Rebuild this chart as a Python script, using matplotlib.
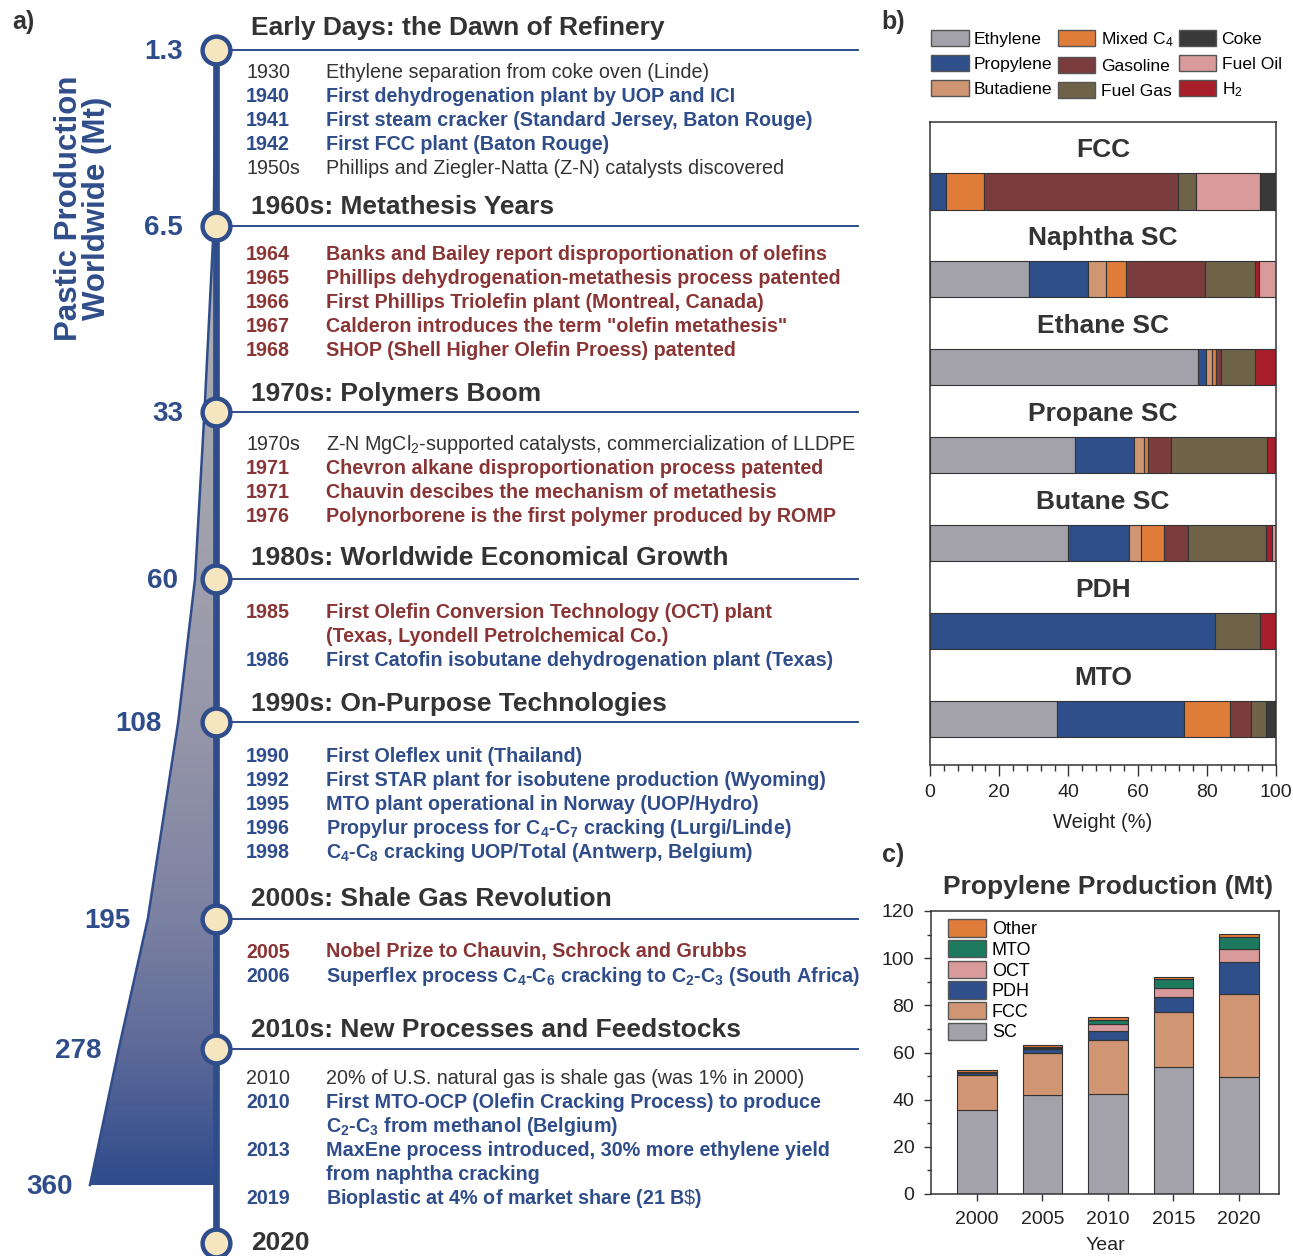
import numpy as np
import matplotlib
matplotlib.use("Agg")
import matplotlib.pyplot as plt
from matplotlib.colors import LinearSegmentedColormap
from matplotlib.patches import Patch
from matplotlib.ticker import MultipleLocator

plt.rcParams["font.family"] = ["Liberation Sans", "DejaVu Sans"]
plt.rcParams["mathtext.fontset"] = "custom"
plt.rcParams["mathtext.rm"] = "Liberation Sans"
plt.rcParams["mathtext.bf"] = "Liberation Sans:bold"
plt.rcParams["mathtext.it"] = "Liberation Sans:italic"

# ---------------- a) timeline data ----------------
eras = [
    "Early Days: the Dawn of Refinery",
    "1960s: Metathesis Years",
    "1970s: Polymers Boom",
    "1980s: Worldwide Economical Growth",
    "1990s: On-Purpose Technologies",
    "2000s: Shale Gas Revolution",
    "2010s: New Processes and Feedstocks",
    "2020",
]
production = [1.3, 6.5, 33, 60, 108, 195, 278, 360]
prod_labels = ["1.3", "6.5", "33", "60", "108", "195", "278", "360"]

# k = plain, b = blue bold, r = red bold
events = [
    [("1930", "Ethylene separation from coke oven (Linde)", "k"),
     ("1940", "First dehydrogenation plant by UOP and ICI", "b"),
     ("1941", "First steam cracker (Standard Jersey, Baton Rouge)", "b"),
     ("1942", "First FCC plant (Baton Rouge)", "b"),
     ("1950s", "Phillips and Ziegler-Natta (Z-N) catalysts discovered", "k")],
    [("1964", "Banks and Bailey report disproportionation of olefins", "r"),
     ("1965", "Phillips dehydrogenation-metathesis process patented", "r"),
     ("1966", "First Phillips Triolefin plant (Montreal, Canada)", "r"),
     ("1967", 'Calderon introduces the term "olefin metathesis"', "r"),
     ("1968", "SHOP (Shell Higher Olefin Proess) patented", "r")],
    [("1970s", "Z-N MgCl$_2$-supported catalysts, commercialization of LLDPE", "k"),
     ("1971", "Chevron alkane disproportionation process patented", "r"),
     ("1971", "Chauvin descibes the mechanism of metathesis", "r"),
     ("1976", "Polynorborene is the first polymer produced by ROMP", "r")],
    [("1985", "First Olefin Conversion Technology (OCT) plant\n(Texas, Lyondell Petrolchemical Co.)", "r"),
     ("1986", "First Catofin isobutane dehydrogenation plant (Texas)", "b")],
    [("1990", "First Oleflex unit (Thailand)", "b"),
     ("1992", "First STAR plant for isobutene production (Wyoming)", "b"),
     ("1995", "MTO plant operational in Norway (UOP/Hydro)", "b"),
     ("1996", r"Propylur process for C$_\mathbf{4}$-C$_\mathbf{7}$ cracking (Lurgi/Linde)", "b"),
     ("1998", r"C$_\mathbf{4}$-C$_\mathbf{8}$ cracking UOP/Total (Antwerp, Belgium)", "b")],
    [("2005", "Nobel Prize to Chauvin, Schrock and Grubbs", "r"),
     ("2006", r"Superflex process C$_\mathbf{4}$-C$_\mathbf{6}$ cracking to C$_\mathbf{2}$-C$_\mathbf{3}$ (South Africa)", "b")],
    [("2010", "20% of U.S. natural gas is shale gas (was 1% in 2000)", "k"),
     ("2010", "First MTO-OCP (Olefin Cracking Process) to produce\n" + r"C$_\mathbf{2}$-C$_\mathbf{3}$ from methanol (Belgium)", "b"),
     ("2013", "MaxEne process introduced, 30% more ethylene yield\nfrom naphtha cracking", "b"),
     ("2019", "Bioplastic at 4% of market share (21 B$\\$$)", "b")],
]

# ---------------- b) product yields (wt %) ----------------
processes = ["FCC", "Naphtha SC", "Ethane SC", "Propane SC", "Butane SC", "PDH", "MTO"]
ethylene = [0, 28.6, 77.5, 41.9, 39.8, 0, 36.7]
propylene = [4.6, 17.2, 2.4, 17.1, 17.6, 82.5, 36.7]
butadiene = [0, 5.2, 1.7, 2.8, 3.5, 0, 0]
mixed_c4 = [11.1, 5.6, 1.0, 1.2, 6.7, 0, 13.3]
gasoline = [56.1, 23.0, 1.4, 6.6, 6.9, 0, 6.1]
fuel_gas = [5.0, 14.2, 9.8, 27.8, 22.6, 12.8, 4.2]
h2 = [0, 1.4, 6.1, 2.2, 1.7, 4.6, 0]
fuel_oil = [18.7, 4.8, 0, 0, 1.3, 0, 0]
coke = [4.4, 0, 0, 0.5, 0, 0, 3.1]

# ---------------- c) propylene production (Mt) ----------------
years = ["2000", "2005", "2010", "2015", "2020"]
sc = [35.7, 42.0, 42.5, 53.7, 49.5]
fcc = [14.8, 17.7, 22.8, 23.6, 35.3]
pdh = [0.8, 1.8, 4.0, 6.3, 13.4]
oct_ = [0.3, 0.6, 2.9, 3.8, 5.5]
mto = [0.0, 0.2, 1.4, 3.6, 5.3]
other = [0.9, 0.9, 1.6, 1.1, 1.4]

BLUE = "#2f4d8a"
RED = "#8a3535"
DARK = "#333333"
NODE = "#f5e6c0"

W, H = 1293, 1256
fig = plt.figure(figsize=(W / 100, H / 100), dpi=100)

# layout (pixel positions of the timeline)
axis_x = 216
node_y = [50, 226, 412, 579, 722, 919, 1049, 1243]
header_y = [28, 207, 394, 558, 704, 899, 1030, 1243]
first_y = [72, 254, 445, 613, 757, 952, 1078]
fill_y = node_y[:7] + [1185]
px_per_mt = 0.35
line_step = 24
ev_size = 14.2

# fill area: width = production
axf = fig.add_axes([0, 0, axis_x / W, 1])
axf.set_zorder(1)
axf.axis("off")
poly = axf.fill_betweenx(fill_y, production, 0, facecolor="none", edgecolor="none")
cmap = LinearSegmentedColormap.from_list(
    "prod", [(0, "#b3b3b8"), (0.32, "#a7a7ae"), (0.59, "#9797aa"),
             (0.76, "#7d82a2"), (0.88, "#5e6a99"), (1.0, "#2f4b8c")])
grad = np.linspace(0, 1, 256).reshape(-1, 1)
im = axf.imshow(grad, extent=(0, 500, fill_y[-1], fill_y[0]), origin="upper",
                aspect="auto", cmap=cmap)
im.set_clip_path(poly.get_paths()[0], transform=axf.transData)
axf.plot(production, fill_y, color=BLUE, lw=1.8)
axf.set_xlim(axis_x / px_per_mt, 0)
axf.set_ylim(H, 0)
for p, lab, yy in zip(production, prod_labels, fill_y):
    axf.text(max(p, 46) + 48, yy + 2, lab, ha="right", va="center",
             fontsize=20, fontweight="bold", color=BLUE)

# timeline text axes
axa = fig.add_axes([0, 0, 880 / W, 1])
axa.set_zorder(2)
axa.patch.set_alpha(0)
axa.axis("off")
axa.set_xlim(0, 880)
axa.set_ylim(H, 0)
axa.plot([axis_x, axis_x], [node_y[0], node_y[-1]], color=BLUE, lw=4.8, zorder=2)
for ny in node_y[:-1]:
    axa.plot([axis_x, 858], [ny, ny], color=BLUE, lw=1.4, zorder=1)
axa.plot([axis_x] * len(node_y), node_y, "o", ms=20, mfc=NODE, mec=BLUE, mew=3.2,
         zorder=3, clip_on=False)

for era, hy in zip(eras, header_y):
    axa.text(251, hy, era, ha="left", va="center", fontsize=19,
             fontweight="bold", color=DARK)

styles = {"k": (DARK, "normal"), "b": (BLUE, "bold"), "r": (RED, "bold")}
for evs, fy in zip(events, first_y):
    yy = fy
    for yr, txt, st in evs:
        col, wt = styles[st]
        axa.text(246, yy, yr, ha="left", va="center", fontsize=ev_size,
                 fontweight=wt, color=col)
        for line in txt.split("\n"):
            axa.text(326, yy, line, ha="left", va="center", fontsize=ev_size,
                     fontweight=wt, color=col)
            yy += line_step

fig.text(83 / W, 1 - 208 / H, "Pastic Production\nWorldwide (Mt)", rotation=90,
         ha="center", va="center", fontsize=22.5, fontweight="bold", color=BLUE,
         linespacing=0.92)

# ---------------- b) ----------------
axb = fig.add_axes([930 / W, 1 - 765 / H, 346 / W, 643 / H])
stack_names = ["Ethylene", "Propylene", "Butadiene", "Mixed C$_4$", "Gasoline",
               "Fuel Gas", "H$_2$", "Fuel Oil", "Coke"]
stack_vals = [ethylene, propylene, butadiene, mixed_c4, gasoline, fuel_gas, h2,
              fuel_oil, coke]
colors_b = {"Ethylene": "#a3a2aa", "Propylene": "#2f4f8a", "Butadiene": "#d09572",
            "Mixed C$_4$": "#e07c3a", "Gasoline": "#7a3c3c", "Fuel Gas": "#6e6249",
            "H$_2$": "#a81f2b", "Fuel Oil": "#d89a9a", "Coke": "#393939"}
yb = np.arange(len(processes))
left = np.zeros(len(processes))
for name, vals in zip(stack_names, stack_vals):
    vals = np.array(vals, dtype=float)
    m = vals > 0
    axb.barh(yb[m], vals[m], left=left[m], height=0.41, color=colors_b[name],
             edgecolor=DARK, linewidth=0.8)
    left += vals
for i, p in enumerate(processes):
    axb.text(50, i - 0.47, p, ha="center", va="center", fontsize=19,
             fontweight="bold", color=DARK)
axb.set_xlim(0, 100)
axb.set_ylim(6.52, -0.79)
axb.set_yticks([])
axb.xaxis.set_major_locator(MultipleLocator(20))
axb.xaxis.set_minor_locator(MultipleLocator(4))
axb.tick_params(axis="x", which="major", length=8, width=1, labelsize=14,
                color=DARK, labelcolor="#222222", pad=6)
axb.tick_params(axis="x", which="minor", length=4, width=1, color=DARK)
for s in axb.spines.values():
    s.set_color(DARK)
    s.set_linewidth(1.1)
axb.set_xlabel("Weight (%)", fontsize=14.5, labelpad=8, color="#222222")

legend_order = ["Ethylene", "Propylene", "Butadiene", "Mixed C$_4$", "Gasoline",
                "Fuel Gas", "Coke", "Fuel Oil", "H$_2$"]
handles = [Patch(facecolor=colors_b[n], edgecolor="#555555", lw=1) for n in legend_order]
fig.legend(handles, legend_order, ncol=3, loc="upper left",
           bbox_to_anchor=(931 / W, 1 - 30 / H), frameon=False, fontsize=12.6,
           handlelength=2.15, handleheight=1.05, handletextpad=0.3,
           columnspacing=0.3, labelspacing=0.45, borderpad=0, borderaxespad=0)

# ---------------- c) ----------------
axc = fig.add_axes([931 / W, 1 - 1194 / H, 348 / W, 283 / H])
src_names = ["SC", "FCC", "PDH", "OCT", "MTO", "Other"]
src_vals = [sc, fcc, pdh, oct_, mto, other]
colors_c = ["#a3a2aa", "#d09572", "#2f4f8a", "#d89a9a", "#1d7a5f", "#e07c3a"]
xc = np.arange(len(years))
bottom = np.zeros(len(years))
for name, vals, col in zip(src_names, src_vals, colors_c):
    axc.bar(xc, vals, 0.6, bottom=bottom, color=col, edgecolor=DARK,
            linewidth=0.8, label=name)
    bottom += np.array(vals)
axc.set_xlim(-0.7, 4.61)
axc.set_ylim(0, 120)
axc.set_xticks(xc, years)
axc.yaxis.set_major_locator(MultipleLocator(20))
axc.yaxis.set_minor_locator(MultipleLocator(10))
axc.tick_params(which="major", length=5, width=1, labelsize=14, color=DARK,
                labelcolor="#222222", pad=7)
axc.tick_params(which="minor", length=3, width=1, color=DARK)
for s in axc.spines.values():
    s.set_color(DARK)
    s.set_linewidth(1.1)
axc.set_xlabel("Year", fontsize=14, labelpad=7, color="#222222")
hc = [Patch(facecolor=c, edgecolor="#555555", lw=1) for c in colors_c][::-1]
axc.legend(hc, src_names[::-1], loc="upper left", bbox_to_anchor=(0.05, 0.97),
           frameon=False, fontsize=13, handlelength=2.1, handleheight=1.1,
           handletextpad=0.3, labelspacing=0.1, borderpad=0, borderaxespad=0)
fig.text(1108 / W, 1 - 887 / H, "Propylene Production (Mt)", ha="center",
         va="center", fontsize=19, fontweight="bold", color=DARK)

# panel letters
for lab, px, py in [("a)", 23, 22), ("b)", 893, 22), ("c)", 893, 855)]:
    fig.text(px / W, 1 - py / H, lab, ha="center", va="center", fontsize=18,
             fontweight="bold", color=DARK)

fig.savefig("out.png", dpi=100)
